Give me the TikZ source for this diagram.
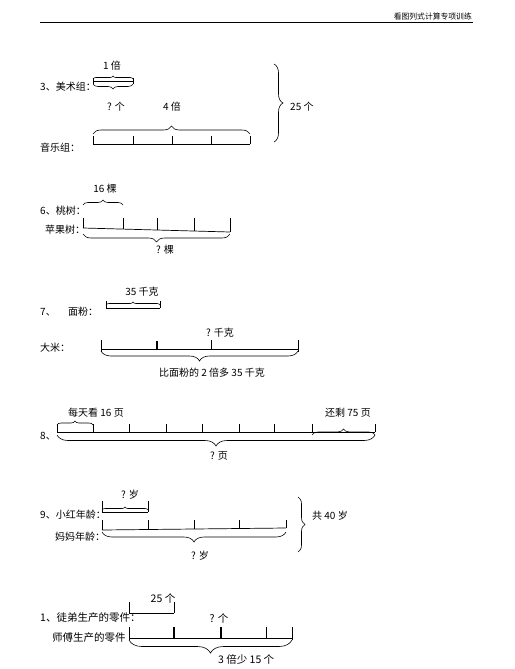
\documentclass[tikz,border=0pt]{standalone}
\usepackage{fontspec}
\setmainfont{Noto Sans CJK SC}
\usetikzlibrary{decorations.pathreplacing}
\begin{document}
\begin{tikzpicture}[x=1pt,y=-1pt,
  lbl/.style={font=\fontsize{10}{12}\selectfont, inner sep=0pt, anchor=west},
  clbl/.style={font=\fontsize{10}{12}\selectfont, inner sep=0pt},
  big/.style={font=\fontsize{10.5}{12}\selectfont},
  seg/.style={line width=0.7pt},
  tk/.style={line width=0.6pt},
  thk/.style={line width=1.3pt},
  brc/.style={decorate, decoration={brace, amplitude=#1}, line width=0.6pt},
  brc/.default=6pt]
\useasboundingbox (0,0) rectangle (514,669);
% header
\coordinate (hl) at (40,22); \coordinate (hr) at (473,22);
\draw[line width=0.9pt] (hl) -- (hr);
\node[font=\fontsize{7.8}{9}\selectfont, anchor=south east, inner sep=1pt] (hdr) at (473,21) {看图列式计算专项训练};

% ---------- problem 3 ----------
\node[lbl] (l3a) at (40,87) {3、美术组：};
\coordinate (a1) at (93,81); \coordinate (a2) at (133,81);
\draw[seg] (a1) -- (a2);
\draw[tk] (93,78) -- (93,84) (133,78) -- (133,84);
\draw[brc=3pt] (93,79) -- (133,79);
\draw[brc=5pt] (133,84) -- (93,84);
\node[clbl] (t3a) at (112,66) {1 倍};
\node[clbl] (t3b) at (116,107) {? 个};
\node[clbl] (t3c) at (172,107) {4 倍};
\coordinate (m1) at (93,144); \coordinate (m2) at (250,144);
\draw[seg] (m1) -- (m2);
\foreach \x in {93,133,172,211,250} \draw[tk] (\x,136) -- (\x,144);
\draw[brc=8pt] (93,134) -- (250,134);
\node[lbl] (l3b) at (40,148) {音乐组：};
\draw[brc=9pt] (274,64) -- (274,142);
\node[lbl] (t3d) at (290,107) {25 个};

% ---------- problem 6 ----------
\node[clbl] (t6a) at (105,189) {16 棵};
\draw[brc=5pt] (83,205) -- (123,205);
\node[lbl] (l6a) at (40,211) {6、桃树：};
\node[lbl] (l6b) at (45,230) {苹果树：};
\coordinate (p1) at (83,228); \coordinate (p2) at (230,232);
\draw[seg] (p1) -- (p2);
\draw[tk] (83,218) -- (83,228) (123,218) -- (123,229.1) (157,218) -- (157,230)
          (194,218) -- (194,231) (230,218) -- (230,232);
\draw[brc=8pt] (230,234) -- (83,234);
\node[clbl] (t6b) at (165,250) {? 棵};

% ---------- problem 7 ----------
\node[clbl] (t7a) at (142,292) {35 千克};
\coordinate (f1) at (106,308); \coordinate (f2) at (160,308);
\draw[seg] (f1) -- (f2);
\draw[tk] (106,301) -- (106,308) (160,301) -- (160,308);
\draw[brc=3pt] (106,305) -- (160,305);
\node[lbl] (l7a) at (40,312) {7、};
\node[lbl] (l7b) at (68,312) {面粉：};
\node[clbl] (t7b) at (220,333) {? 千克};
\coordinate (r1) at (101,349); \coordinate (r2) at (298,349);
\draw[seg] (r1) -- (r2);
\draw[tk] (101,340) -- (101,352) (211,340) -- (211,349) (298,340) -- (298,352);
\draw[thk] (157,341) -- (157,349);
\draw[brc=10pt] (298,351) -- (101,351);
\node[clbl] (t7c) at (212,373) {比面粉的 2 倍多 35 千克};
\node[lbl] (l7c) at (40,348) {大米：};

% ---------- problem 8 ----------
\node[lbl] (t8a) at (68,413) {每天看 16 页};
\node[lbl] (t8b) at (325,413) {还剩 75 页};
\node[lbl] (l8) at (40,436) {8、};
\coordinate (b1) at (57,432); \coordinate (b2) at (375,432);
\draw[seg] (b1) -- (b2);
\foreach \x in {57,93,129,166,202,239,274,312,375} \draw[tk] (\x,424) -- (\x,432);
\draw[brc=4pt] (57,425) -- (93,425);
\draw[brc=6pt] (312,435) -- (375,435);
\draw[brc=11pt] (375,435) -- (57,435);
\node[clbl] (t8c) at (219,456) {? 页};

% ---------- problem 9 ----------
\node[clbl] (t9a) at (130,495) {? 岁};
\coordinate (h1) at (102,512); \coordinate (h2) at (148,512);
\draw[seg] (h1) -- (h2);
\draw[tk] (102,501) -- (102,512) (148,501) -- (148,512);
\draw[brc=3pt] (102,510) -- (148,510);
\node[lbl] (l9a) at (40,515) {9、小红年龄：};
\coordinate (mm1) at (102,530); \coordinate (mm2) at (286,528);
\draw[seg] (mm1) -- (mm2);
\draw[tk] (102,520) -- (102,530) (148,520) -- (148,529.5) (194,520) -- (194,529)
          (239,520) -- (239,528.5) (286,520) -- (286,528);
\draw[brc=10pt] (286,532) -- (102,532);
\node[clbl] (t9b) at (200,556) {? 岁};
\node[lbl] (l9b) at (55,537) {妈妈年龄：};
\draw[brc=7pt] (298,497) -- (298,552);
\node[lbl] (t9c) at (312,516) {共 40 岁};

% ---------- problem 1 ----------
\node[clbl, big] (t1a) at (163,598) {25 个};
\coordinate (s1) at (129,613); \coordinate (s2) at (174,613);
\draw[seg] (s1) -- (s2);
\draw[tk] (129,602) -- (129,613) (174,602) -- (174,613);
\node[lbl, big] (l1a) at (40,618) {1、徒弟生产的零件：};
\node[clbl, big] (t1b) at (219,618) {? 个};
\coordinate (w1) at (129,638); \coordinate (w2) at (292,638);
\draw[seg] (w1) -- (w2);
\draw[tk] (129,627) -- (129,640) (266,627) -- (266,638) (292,627) -- (292,640);
\draw[thk] (174,627) -- (174,638) (221,627) -- (221,638);
\node[lbl, big] (l1b) at (52,638) {师傅生产的零件};
\draw[brc=13pt] (292,640) -- (129,640);
\node[lbl, big] (t1c) at (218,659) {3 倍少 15 个};
\end{tikzpicture}
\end{document}
